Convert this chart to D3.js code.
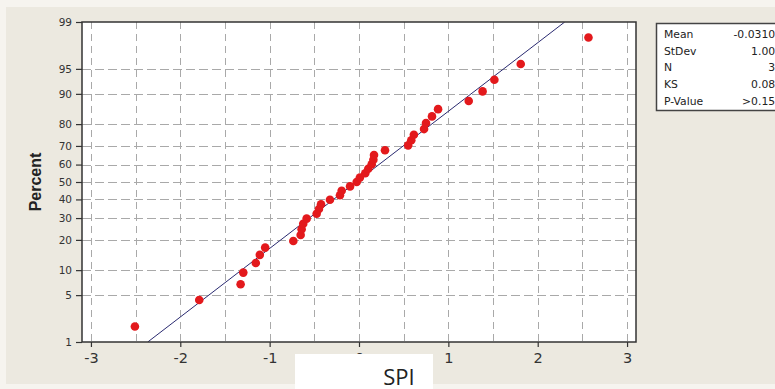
<!DOCTYPE html>
<html>
<head>
<meta charset="utf-8">
<script src="https://cdn.jsdelivr.net/npm/d3@7"></script>
<style>
  html, body { margin: 0; padding: 0; background: #f6f4ef; }
  svg { display: block; }
</style>
</head>
<body>
<svg id="chart" width="775" height="389"></svg>
<script>
// SPI observations (sorted) and their plotted cumulative percents
const spi = [-2.508, -1.788, -1.325, -1.295, -1.155, -1.110, -1.050, -0.735, -0.653, -0.642,
             -0.624, -0.586, -0.474, -0.448, -0.425, -0.325, -0.213, -0.194, -0.100, -0.026,
              0.010,  0.070,  0.104,  0.142,  0.161,  0.168,  0.291,  0.550,  0.585,  0.614,
              0.728,  0.750,  0.817,  0.885,  1.228,  1.383,  1.515,  1.810,  2.568];
const percent = [1.78, 4.31, 6.85, 9.39, 11.93, 14.47, 17.01, 19.54, 22.08, 24.62,
                 27.16, 29.70, 32.23, 34.77, 37.31, 39.85, 42.39, 44.92, 47.46, 50.00,
                 52.54, 55.08, 57.61, 60.15, 62.69, 65.23, 67.77, 70.30, 72.84, 75.38,
                 77.92, 80.46, 82.99, 85.53, 88.07, 90.61, 93.15, 95.69, 98.22];

const xTicks = [-3, -2, -1, 0, 1, 2, 3];
const xGrid = [-3, -2.5, -2, -1.5, -1, -0.5, 0, 0.5, 1, 1.5, 2, 2.5, 3];
const percentTicks = [1, 5, 10, 20, 30, 40, 50, 60, 70, 80, 90, 95, 99];

const statLabels = ["Mean", "StDev", "N", "KS", "P-Value"];
const statValues = ["-0.03103", "1.003", "39", "0.080", ">0.150"];
const fitMean = -0.0310;
const fitStDev = 1.003;

// Inverse standard normal CDF (Acklam's rational approximation)
function probit(p) {
  const a = [-3.969683028665376e+01, 2.209460984245205e+02, -2.759285104469687e+02,
             1.383577518672690e+02, -3.066479806614716e+01, 2.506628277459239e+00];
  const b = [-5.447609879822406e+01, 1.615858368580409e+02, -1.556989798598866e+02,
             6.680131188771972e+01, -1.328068155288572e+01];
  const c = [-7.784894002430293e-03, -3.223964580411365e-01, -2.400758277161838e+00,
             -2.549732539343734e+00, 4.374664141464968e+00, 2.938163982698783e+00];
  const d = [7.784695709041462e-03, 3.224671290700398e-01, 2.445134137142996e+00,
             3.754408661907416e+00];
  const pl = 0.02425, ph = 1 - pl;
  let q, r;
  if (p < pl) {
    q = Math.sqrt(-2 * Math.log(p));
    return (((((c[0]*q+c[1])*q+c[2])*q+c[3])*q+c[4])*q+c[5]) /
           ((((d[0]*q+d[1])*q+d[2])*q+d[3])*q+1);
  }
  if (p <= ph) {
    q = p - 0.5; r = q * q;
    return (((((a[0]*r+a[1])*r+a[2])*r+a[3])*r+a[4])*r+a[5])*q /
           (((((b[0]*r+b[1])*r+b[2])*r+b[3])*r+b[4])*r+1);
  }
  q = Math.sqrt(-2 * Math.log(1 - p));
  return -(((((c[0]*q+c[1])*q+c[2])*q+c[3])*q+c[4])*q+c[5]) /
          ((((d[0]*q+d[1])*q+d[2])*q+d[3])*q+1);
}

const W = 775, H = 389;
const plot = { left: 82, top: 22, right: 636, bottom: 342 };

const svg = d3.select("#chart");

// window background
svg.append("rect").attr("x", 0).attr("y", 0).attr("width", W).attr("height", H).attr("fill", "#f6f4ef");
svg.append("rect").attr("x", 6).attr("y", 7).attr("width", W - 6).attr("height", H - 12).attr("fill", "#ece9e0");

const x = d3.scaleLinear().domain([-3.1, 3.1]).range([plot.left, plot.right]);
const zMin = probit(percentTicks[0] / 100), zMax = probit(percentTicks[percentTicks.length - 1] / 100);
const yz = d3.scaleLinear().domain([zMin, zMax]).range([plot.bottom, plot.top]);
const y = p => yz(probit(p / 100));

// plot area
svg.append("rect")
  .attr("x", plot.left).attr("y", plot.top)
  .attr("width", plot.right - plot.left).attr("height", plot.bottom - plot.top)
  .attr("fill", "#ffffff");

svg.append("clipPath").attr("id", "clip")
  .append("rect")
  .attr("x", plot.left).attr("y", plot.top)
  .attr("width", plot.right - plot.left).attr("height", plot.bottom - plot.top);

// grid
const grid = svg.append("g").attr("stroke", "#a9a9a9").attr("stroke-width", 1).attr("fill", "none");
grid.selectAll("line.h")
  .data(percentTicks.filter(p => p > 1 && p < 99))
  .join("line").attr("class", "h")
  .attr("x1", plot.left).attr("x2", plot.right)
  .attr("y1", d => Math.round(y(d)) + 0.5).attr("y2", d => Math.round(y(d)) + 0.5)
  .attr("stroke-dasharray", "9,4");
grid.selectAll("line.v")
  .data(xGrid)
  .join("line").attr("class", "v")
  .attr("x1", d => Math.round(x(d)) + 0.5).attr("x2", d => Math.round(x(d)) + 0.5)
  .attr("y1", plot.top).attr("y2", plot.bottom)
  .attr("stroke-dasharray", "7,5");

// fitted normal line
const zEnds = [zMin, zMax];
svg.append("path")
  .datum(zEnds)
  .attr("clip-path", "url(#clip)")
  .attr("fill", "none")
  .attr("stroke", "#2a2a70")
  .attr("stroke-width", 1)
  .attr("d", d3.line().x(z => x(fitMean + fitStDev * z)).y(z => yz(z)));

// points
svg.append("g")
  .selectAll("circle")
  .data(spi.map((v, i) => ({ v, p: percent[i] })))
  .join("circle")
  .attr("cx", d => x(d.v))
  .attr("cy", d => y(d.p))
  .attr("r", 4.3)
  .attr("fill", "#e3191c");

// frame
svg.append("rect")
  .attr("x", plot.left).attr("y", plot.top)
  .attr("width", plot.right - plot.left).attr("height", plot.bottom - plot.top)
  .attr("fill", "none").attr("stroke", "#333333").attr("stroke-width", 1.5);

// axes
const xAxis = svg.append("g")
  .attr("transform", `translate(0,${plot.bottom})`)
  .call(d3.axisBottom(x).tickValues(xTicks).tickSize(5).tickPadding(6).tickFormat(d => String(d)));
xAxis.select(".domain").remove();
xAxis.selectAll("line").attr("stroke", "#333").attr("stroke-width", 1.2);
xAxis.selectAll("text").attr("font-family", "DejaVu Sans, sans-serif").attr("font-size", 14.5).attr("fill", "#333");

const yAxis = svg.append("g")
  .attr("transform", `translate(${plot.left},0)`)
  .call(d3.axisLeft(yz).tickValues(percentTicks.map(p => probit(p / 100))).tickSize(6).tickPadding(4)
    .tickFormat((d, i) => String(percentTicks[i])));
yAxis.select(".domain").remove();
yAxis.selectAll("line").attr("stroke", "#333").attr("stroke-width", 1.2);
yAxis.selectAll("text").attr("font-family", "DejaVu Sans, sans-serif").attr("font-size", 10.5).attr("fill", "#333");

// y axis title
svg.append("text")
  .attr("transform", `translate(41,${(plot.top + plot.bottom) / 2}) rotate(-90)`)
  .attr("text-anchor", "middle")
  .attr("font-family", "Liberation Sans, Arial, sans-serif")
  .attr("font-weight", "bold")
  .attr("font-size", 16)
  .attr("fill", "#222")
  .text("Percent");

// x axis title on its white panel
svg.append("rect").attr("x", 295).attr("y", 354).attr("width", 138).attr("height", 35).attr("fill", "#ffffff");
svg.append("text")
  .attr("x", 399).attr("y", 385)
  .attr("text-anchor", "middle")
  .attr("font-family", "Open Sans, sans-serif")
  .attr("font-size", 22)
  .attr("fill", "#222")
  .text("SPI");

// summary statistics box
const box = svg.append("g");
box.append("rect")
  .attr("x", 656.5).attr("y", 23.5).attr("width", 140).attr("height", 87)
  .attr("fill", "#ffffff").attr("stroke", "#444").attr("stroke-width", 1.5);
box.selectAll("text.lab")
  .data(statLabels)
  .join("text").attr("class", "lab")
  .attr("x", 664).attr("y", (d, i) => 38 + i * 16.7)
  .attr("font-family", "DejaVu Sans, sans-serif").attr("font-size", 10.8).attr("fill", "#222")
  .text(d => d);
box.selectAll("text.val")
  .data(statValues)
  .join("text").attr("class", "val")
  .attr("x", 782).attr("y", (d, i) => 38 + i * 16.7)
  .attr("text-anchor", "end")
  .attr("font-family", "DejaVu Sans, sans-serif").attr("font-size", 10.8).attr("fill", "#222")
  .text(d => d);
</script>
</body>
</html>
